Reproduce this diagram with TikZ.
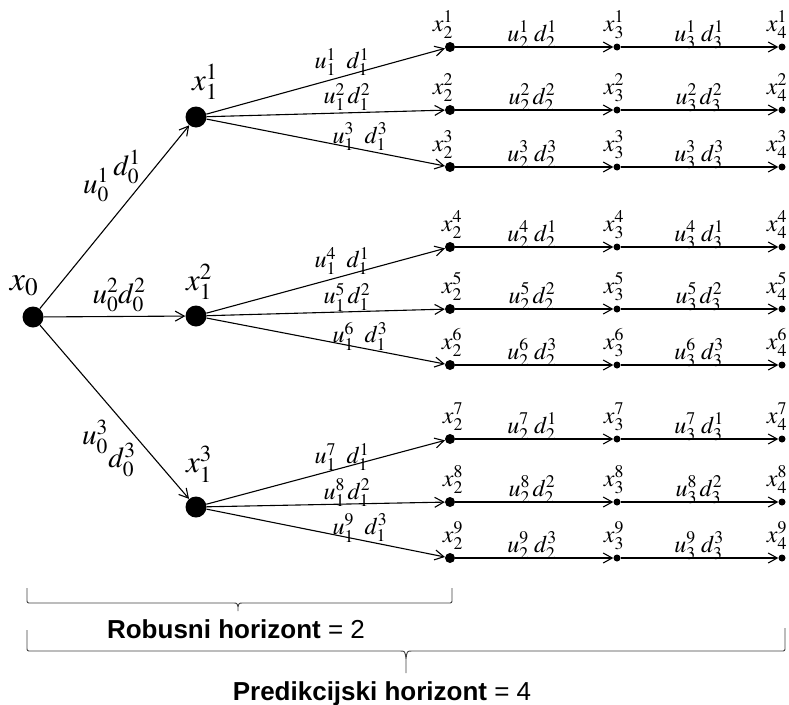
\documentclass[tikz,border=0pt]{standalone}
\usepackage{mathptmx}
\usepackage[no-math]{fontspec}
\newfontfamily\labfont{Liberation Sans}
\usetikzlibrary{arrows.meta}
\newcommand\fsz[1]{\fontsize{#1}{#1}\selectfont}
\begin{document}
\begin{tikzpicture}[x=1pt,y=-1pt,
  big/.style={circle,fill=black,inner sep=0pt,minimum size=21pt},
  mid/.style={circle,fill=black,inner sep=0pt,minimum size=10pt},
  small/.style={circle,fill=black,inner sep=0pt,minimum size=7pt},
  edge/.style={line width=1.1pt,-{Straight Barb[length=9pt,width=10pt,line width=1.1pt]}},
  lab/.style={inner sep=0pt,font=\fsz{24}},
  labA/.style={inner sep=0pt,font=\fsz{34}},
  labB/.style={inner sep=0pt,font=\fsz{31}},
  labC/.style={inner sep=0pt,font=\fsz{29}},
  bracelab/.style={inner sep=0pt,font=\labfont\fsz{26},anchor=base},
  bracepath/.style={line width=0.9pt,black!75}]
\path[use as bounding box] (0,0) rectangle (789,704);

% level 0 and 1
\node[big] (x0) at (33,317) {};
\node[big] (x1-1) at (196,117) {};
\node[big] (x1-2) at (196,316) {};
\node[big] (x1-3) at (196,507) {};
\node[labA] (lx0) at (24,286) {$x_0$};
\node[labB] (lx1-1) at (205,82) {$x_1^1$};
\node[labB] (lx1-2) at (199,282) {$x_1^2$};
\node[labB] (lx1-3) at (199,464) {$x_1^3$};
\draw[edge] (x0) -- (x1-1);
\draw[edge] (x0) -- (x1-2);
\draw[edge] (x0) -- (x1-3);
\node[labC] (lu01) at (96,185) {$u_0^1$};
\node[labC] (ld01) at (127,167) {$d_0^1$};
\node[labC] (l02) at (119,295) {$u_0^2 d_0^2$};
\node[labC] (lu03) at (95,437) {$u_0^3$};
\node[labC] (ld03) at (122,460) {$d_0^3$};

% levels 2-4
\foreach \k/\y/\b/\g/\xl/\px/\py in {
  1/47/1/1/443/342/62, 2/110/2/1/443/347/97, 3/167/3/1/443/360/137,
  4/247/1/2/452/342/261, 5/309/2/2/452/347/297, 6/365/3/2/452/360/336,
  7/439/1/3/453/342/457, 8/502/2/3/453/347/493, 9/558/3/3/453/360/528} {
  \node[mid] (x2-\k) at (450,\y) {};
  \node[small] (x3-\k) at (617,\y) {};
  \node[small] (x4-\k) at (782,\y) {};
  \draw[edge] (x1-\g) -- (x2-\k);
  \draw[edge] (x2-\k) -- (x3-\k);
  \draw[edge] (x3-\k) -- (x4-\k);
  \node[lab] (lu1-\k) at (\px,\py) {$u_1^{\k}\ifnum\b=2\relax\,\else\;\;\fi d_1^{\b}$};
  \node[lab,anchor=base] (lx2-\k) at (\xl,{\y-16}) {$x_2^{\k}$};
  \node[lab,anchor=base] (lx3-\k) at (614,{\y-16}) {$x_3^{\k}$};
  \node[lab,anchor=base] (lx4-\k) at (777,{\y-16}) {$x_4^{\k}$};
  \node[lab,anchor=base] (lu2-\k) at (532,{\y-6}) {$u_2^{\k}\ifnum\b=2\relax\,\else\;\fi d_2^{\b}$};
  \node[lab,anchor=base] (lu3-\k) at (699,{\y-6}) {$u_3^{\k}\ifnum\b=2\relax\,\else\;\fi d_3^{\b}$};
}

% braces
\draw[bracepath] (27,588) -- (27,599) .. controls (27,603) .. (31,603) -- (233,603)
  .. controls (237,603) .. (238,607) .. controls (239,603) .. (243,603) -- (448,603)
  .. controls (452,603) .. (452,599) -- (452,588)
  (238,607) -- (238,611);
\draw[bracepath] (27,630) -- (27,647) .. controls (27,651) .. (31,651) -- (400,651)
  .. controls (405,651) .. (406,659) .. controls (407,651) .. (412,651) -- (781,651)
  .. controls (785,651) .. (785,647) -- (785,628)
  (406,659) -- (406,673);
\node[bracelab] (rob) at (236,638) {{\bfseries Robusni horizont} = 2};
\node[bracelab] (pred) at (382,700) {{\bfseries Predikcijski horizont} = 4};
\end{tikzpicture}
\end{document}
